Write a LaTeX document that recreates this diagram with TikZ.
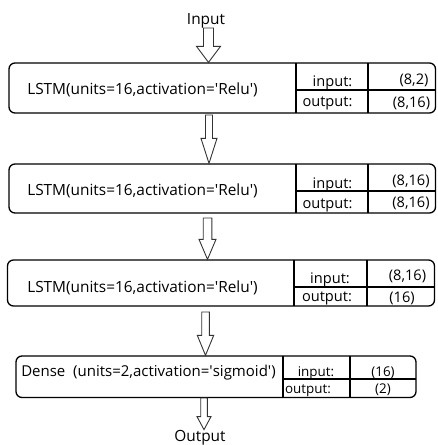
\documentclass[tikz,border=0pt]{standalone}
\usepackage{fontspec}
\setmainfont{Open Sans}
\usepackage{tikz}
\usetikzlibrary{calc}

% straight quote (no TeX curly mapping)
\newcommand{\sq}{\textquotesingle}

% hollow block arrow: from, to, shaft half width, head half width, head length
\newcommand{\hollowarrow}[5]{%
  \draw[hollow] let \p1=#1, \p2=#2 in
    (\x1-#3pt,\y1) -- (\x1+#3pt,\y1) -- (\x1+#3pt,\y2+#5pt)
    -- (\x1+#4pt,\y2+#5pt) -- (\x2,\y2) -- (\x1-#4pt,\y2+#5pt)
    -- (\x1-#3pt,\y2+#5pt) -- cycle;}

\tikzset{
  layer/.style={draw, rounded corners=6pt, line width=1.3pt, inner sep=0pt},
  cellline/.style={line width=1.1pt},
  hollow/.style={draw=black!80, line width=0.9pt, fill=white},
  txt/.style={font=\fontsize{15.4}{18}\selectfont, anchor=base, inner sep=0pt},
  cell/.style={font=\fontsize{14.6}{17}\selectfont, anchor=base, inner sep=0pt},
  small/.style={font=\fontsize{13.4}{16}\selectfont, anchor=base, inner sep=0pt}
}

\begin{document}
\begin{tikzpicture}[x=1pt, y=-1pt]
    \useasboundingbox (0,0) rectangle (437,445);

    % --- layer boxes ---
    \node[layer, minimum width=426.5pt, minimum height=50pt] (lstm1) at (222.25,88) {};
    \node[layer, minimum width=426.5pt, minimum height=49pt] (lstm2) at (222.25,188.5) {};
    \node[layer, minimum width=427pt, minimum height=46pt] (lstm3) at (221,283) {};
    \node[layer, minimum width=400pt, minimum height=41.5pt] (dense) at (216,376.75) {};

    % --- input/output cells ---
    \draw[cellline] (296,63) -- (296,113);   % lstm1
    \draw[cellline] (368,63) -- (368,113);
    \draw[cellline] (296,90) -- (435.5,90);
    \draw[cellline] (296,164) -- (296,213);  % lstm2
    \draw[cellline] (368,164) -- (368,213);
    \draw[cellline] (296,191) -- (435.5,191);
    \draw[cellline] (294,260) -- (294,306);  % lstm3
    \draw[cellline] (367,260) -- (367,306);
    \draw[cellline] (294,287) -- (434.5,287);
    \draw[cellline] (283,356) -- (283,397.5); % dense
    \draw[cellline] (350,356) -- (350,397.5);
    \draw[cellline] (283,379) -- (416,379);

    % --- texts ---
    \node[txt] (in) at (206,24.5) {Input};
    \node[txt] (t1) at (142.5,94) {LSTM(units=16,activation=\sq Relu\sq)};
    \node[cell] (i1) at (332.5,86) {input:};
    \node[cell] (o1) at (327.5,106) {output:};
    \node[cell] (si1) at (414,84) {(8,2)};
    \node[cell] (so1) at (411.5,107) {(8,16)};

    \node[txt] (t2) at (142.5,195) {LSTM(units=16,activation=\sq Relu\sq)};
    \node[cell] (i2) at (332.5,188) {input:};
    \node[cell] (o2) at (327.5,208) {output:};
    \node[cell] (si2) at (411,185) {(8,16)};
    \node[cell] (so2) at (411,207) {(8,16)};

    \node[txt] (t3) at (142.5,292.5) {LSTM(units=16,activation=\sq Relu\sq)};
    \node[cell] (i3) at (330,283) {input:};
    \node[cell] (o3) at (327,301.5) {output:};
    \node[cell] (si3) at (407.5,280) {(8,16)};
    \node[cell] (so3) at (402,302) {(16)};

    \node[txt, font=\fontsize{15}{18}\selectfont] (t4) at (148.5,376.5)
      {Dense\ \ (units=2,activation=\sq sigmoid\sq)};
    \node[small] (i4) at (316,376) {input:};
    \node[small] (o4) at (308,393.5) {output:};
    \node[small] (si4) at (383,376) {(16)};
    \node[small] (so4) at (383,393.5) {(2)};

    \node[txt] (out) at (200,441) {Output};

    % --- arrows ---
    \coordinate (a1) at (208.5,28);
    \coordinate (a2) at (209,115);
    \coordinate (a3) at (207.5,218);
    \coordinate (a4) at (205.5,312);
    \coordinate (a5) at (204,398);
    \hollowarrow{(a1)}{(a1 |- lstm1.north)}{5}{12}{16}
    \hollowarrow{(a2)}{(a2 |- lstm2.north)}{3.5}{8}{25}
    \hollowarrow{(a3)}{(a3 |- lstm3.north)}{4.3}{8.5}{20}
    \hollowarrow{(a4)}{(a4 |- dense.north)}{3.8}{8.2}{20}
    \hollowarrow{(a5)}{(a5 |- out.north)}{3.3}{7}{13}
  \end{tikzpicture}
\end{document}
